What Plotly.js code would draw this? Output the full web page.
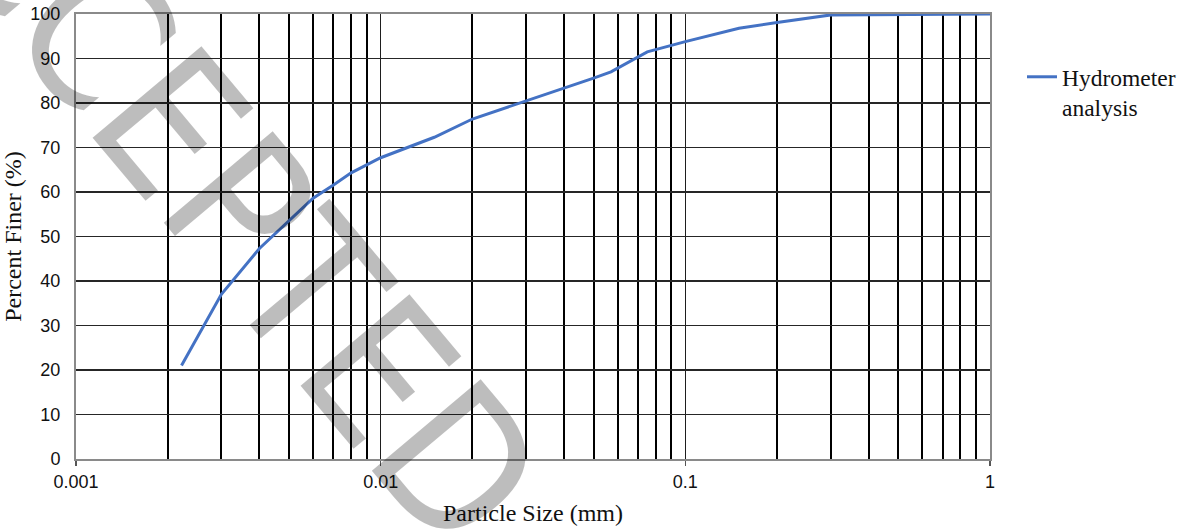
<!DOCTYPE html>
<html>
<head>
<meta charset="utf-8">
<script src="https://cdn.plot.ly/plotly-3.0.1.min.js"></script>
<style>
html, body { margin: 0; padding: 0; background: #fff; }
#chart { width: 1194px; height: 531px; }
</style>
</head>
<body>
<div id="chart"></div>
<script>
// ---- data ----
var particleSize = [0.00222, 0.003, 0.004, 0.005, 0.006, 0.007, 0.008, 0.01, 0.015, 0.02, 0.03, 0.04, 0.05, 0.057, 0.075, 0.1, 0.15, 0.2, 0.3, 1];
var percentFiner = [21, 37, 47.3, 53.6, 58.6, 61.6, 64.3, 67.7, 72.3, 76.4, 80.4, 83.4, 85.6, 87, 91.5, 93.8, 96.8, 98.1, 99.8, 100];
var seriesName = 'Hydrometer<br>analysis';

var xTickVals = [0.001, 0.01, 0.1, 1];
var xTickText = ['0.001', '0.01', '0.1', '1'];
var yTickVals = [0, 10, 20, 30, 40, 50, 60, 70, 80, 90, 100];
var minorDigits = [2, 3, 4, 5, 6, 7, 8, 9];
var decades = [0.001, 0.01, 0.1];

var xTitle = 'Particle Size (mm)';
var yTitle = 'Percent Finer (%)';
var watermark = 'ACCEPTED';

var minorVals = [];
decades.forEach(function (d) { minorDigits.forEach(function (m) { minorVals.push(d * m); }); });

var W = 1194, H = 531;
var M = { l: 76, r: 204, t: 14, b: 72 };
var pw = W - M.l - M.r, ph = H - M.t - M.b;
function px2paperX(px) { return (px - M.l) / pw; }
function px2paperY(py) { return 1 - (py - M.t) / ph; }

var trace = {
  x: particleSize,
  y: percentFiner,
  type: 'scatter',
  mode: 'lines',
  name: seriesName,
  line: { color: '#4472C4', width: 3 },
  showlegend: true
};

var layout = {
  width: W,
  height: H,
  margin: M,
  paper_bgcolor: '#ffffff',
  plot_bgcolor: '#ffffff',
  font: { family: 'Liberation Sans, Arial, sans-serif', size: 18, color: '#111' },
  showlegend: true,
  legend: {
    x: px2paperX(1022),
    xanchor: 'left',
    y: px2paperY(55),
    yanchor: 'top',
    valign: 'top',
    font: { family: 'Liberation Serif, Times New Roman, serif', size: 23.5, color: '#111' },
    bgcolor: 'rgba(0,0,0,0)',
    borderwidth: 0
  },
  xaxis: {
    type: 'log',
    range: [-3, 0],
    tickmode: 'array',
    tickvals: xTickVals,
    ticktext: xTickText,
    ticks: 'outside',
    ticklen: 5,
    tickwidth: 1.5,
    tickcolor: '#555',
    tickfont: { family: 'Liberation Sans, Arial, sans-serif', size: 18, color: '#111' },
    showgrid: true,
    gridcolor: '#1e1e1e',
    gridwidth: 1.5,
    minor: {
      tickmode: 'array',
      tickvals: minorVals,
      showgrid: true,
      gridcolor: '#000',
      gridwidth: 2,
      ticks: ''
    },
    showline: true,
    mirror: true,
    linecolor: '#8a8a8a',
    linewidth: 2,
    zeroline: false,
    automargin: false,
    title: {
      text: xTitle,
      font: { family: 'Liberation Serif, Times New Roman, serif', size: 24, color: '#111' },
      standoff: 14
    }
  },
  yaxis: {
    range: [0, 100],
    tickmode: 'array',
    tickvals: yTickVals,
    ticks: '',
    tickfont: { family: 'Liberation Sans, Arial, sans-serif', size: 18, color: '#111' },
    ticklabelstandoff: 10,
    showgrid: true,
    gridcolor: '#262626',
    gridwidth: 1.2,
    showline: true,
    mirror: true,
    linecolor: '#8a8a8a',
    linewidth: 2,
    zeroline: false,
    automargin: false,
    title: {
      text: yTitle,
      font: { family: 'Liberation Serif, Times New Roman, serif', size: 24, color: '#111' },
      standoff: 8
    }
  },
  annotations: [
    {
      text: watermark,
      xref: 'paper', yref: 'paper',
      x: px2paperX(200), y: px2paperY(160),
      xanchor: 'center', yanchor: 'middle',
      showarrow: false,
      textangle: 50,
      font: { family: 'Liberation Sans Narrow, Arial Narrow, DejaVu Sans Condensed, Liberation Sans, sans-serif', size: 195, color: 'rgba(0,0,0,0.26)' },
      captureevents: false
    }
  ]
};

Plotly.newPlot('chart', [trace], layout, { displayModeBar: false, staticPlot: true });
</script>
</body>
</html>
